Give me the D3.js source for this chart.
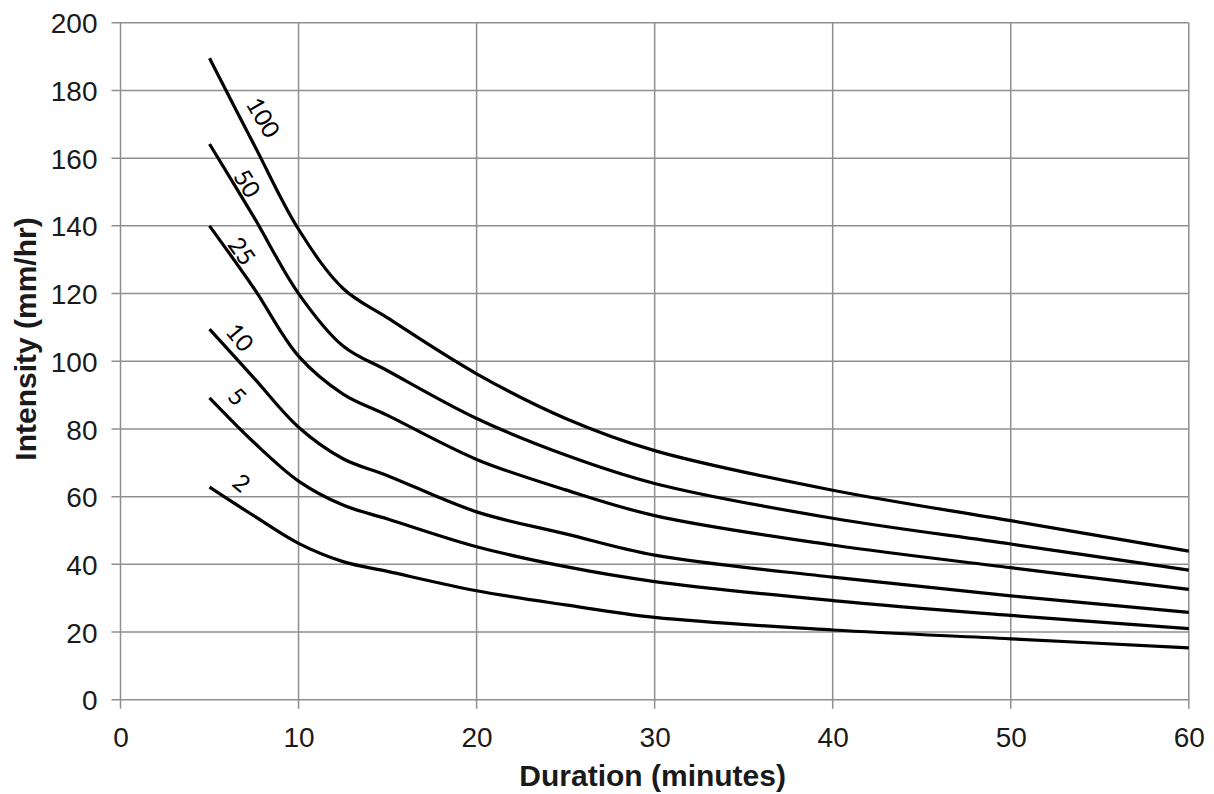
<!DOCTYPE html>
<html>
<head>
<meta charset="utf-8">
<script src="https://cdn.jsdelivr.net/npm/d3@7"></script>
<style>
  html, body { margin: 0; padding: 0; background: #fff; }
  svg { display: block; }
</style>
</head>
<body>
<svg id="chart" width="1214" height="794"></svg>
<script>
// Durations (minutes)
const durations = [5, 7.5, 10, 12.5, 15, 20, 25, 30, 40, 50, 60];
// Return periods (years)
const returnPeriods = ["100", "50", "25", "10", "5", "2"];
// Intensity (mm/hr) per return period
const i100 = [189.5, 164, 139, 121.5, 112.8, 96.3, 83.1, 73.6, 61.9, 52.9, 43.9];
const i50  = [164.2, 142.5, 120, 104.5, 97.2, 83.1, 72.3, 63.9, 53.6, 46.0, 38.3];
const i25  = [140, 121.5, 101.5, 90.3, 84.0, 71.0, 62.0, 54.4, 45.7, 39.0, 32.6];
const i10  = [109.5, 95, 80.5, 71.2, 66.2, 55.5, 49.0, 42.7, 36.2, 30.7, 25.8];
const i5   = [89.2, 76, 64.6, 57.5, 53.4, 45.2, 39.3, 34.9, 29.3, 24.9, 21.0];
const i2   = [62.8, 54.3, 46.2, 40.8, 37.9, 32.2, 28.0, 24.3, 20.6, 18.0, 15.3];
const seriesValues = [i100, i50, i25, i10, i5, i2];
// Label anchor (duration, intensity) and rotation per series
const labelX = [8.0, 7.1, 6.8, 6.7, 6.55, 6.8];
const labelY = [172, 152.5, 132.5, 107, 89.5, 64];
const labelAngle = [60, 58, 55, 50, 45, 40];

const xTicks = [0, 10, 20, 30, 40, 50, 60];
const yTicks = [0, 20, 40, 60, 80, 100, 120, 140, 160, 180, 200];

const svg = d3.select("#chart");
const m = { left: 120.5, right: 1214 - 1188.8, top: 22.8, bottom: 794 - 699.7 };
const W = 1214, H = 794;

const x = d3.scaleLinear().domain([0, 60]).range([m.left, W - m.right]);
const y = d3.scaleLinear().domain([0, 200]).range([H - m.bottom, m.top]);

const gridColor = "#8f8f8f";

// Grid lines
svg.append("g").selectAll("line.v").data(xTicks).join("line")
  .attr("x1", d => x(d)).attr("x2", d => x(d))
  .attr("y1", y(200)).attr("y2", y(0) + 9)
  .attr("stroke", gridColor).attr("stroke-width", 1.5);
svg.append("g").selectAll("line.h").data(yTicks).join("line")
  .attr("x1", x(0) - 9).attr("x2", x(60))
  .attr("y1", d => y(d)).attr("y2", d => y(d))
  .attr("stroke", gridColor).attr("stroke-width", 1.5);

// Axes (labels only)
const xAxis = d3.axisBottom(x).tickValues(xTicks).tickSize(0).tickPadding(0);
const gx = svg.append("g").attr("transform", `translate(0,${y(0)})`).call(xAxis);
gx.select(".domain").remove();
gx.selectAll("text").attr("dy", null).attr("y", 47)
  .style("font-family", "Liberation Sans, Arial, sans-serif").style("font-size", "28px").attr("fill", "#1a1a1a");

const yAxis = d3.axisLeft(y).tickValues(yTicks).tickSize(0).tickPadding(0);
const gy = svg.append("g").attr("transform", `translate(${x(0)},0)`).call(yAxis);
gy.select(".domain").remove();
gy.selectAll("text").attr("x", -23).attr("dy", "0.36em")
  .style("font-family", "Liberation Sans, Arial, sans-serif").style("font-size", "28px").attr("fill", "#1a1a1a");

// Curves
const line = d3.line()
  .x((d, i) => x(durations[i]))
  .y(d => y(d))
  .curve(d3.curveCatmullRom.alpha(0.5));

svg.append("g").selectAll("path").data(seriesValues).join("path")
  .attr("d", d => line(d))
  .attr("fill", "none").attr("stroke", "#000").attr("stroke-width", 3.2)
  .attr("stroke-linecap", "butt");

// Curve labels
svg.append("g").selectAll("text").data(returnPeriods).join("text")
  .attr("transform", (d, i) => `translate(${x(labelX[i])},${y(labelY[i])}) rotate(${labelAngle[i]})`)
  .attr("text-anchor", "middle").attr("dy", "0.35em")
  .style("font-family", "Lato, 'Open Sans', 'DejaVu Sans', sans-serif").style("font-size", "24px")
  .attr("fill", "#000")
  .text(d => d);

// Axis titles
svg.append("text")
  .attr("x", (x(0) + x(60)) / 2 - 2).attr("y", 786)
  .attr("text-anchor", "middle")
  .style("font-family", "Liberation Sans, Arial, sans-serif").style("font-size", "30px").style("font-weight", "bold")
  .attr("fill", "#1a1a1a")
  .text("Duration (minutes)");

svg.append("text")
  .attr("transform", `translate(36,339) rotate(-90)`)
  .attr("text-anchor", "middle")
  .style("font-family", "Liberation Sans, Arial, sans-serif").style("font-size", "30px").style("font-weight", "bold")
  .attr("fill", "#1a1a1a")
  .text("Intensity (mm/hr)");
</script>
</body>
</html>
